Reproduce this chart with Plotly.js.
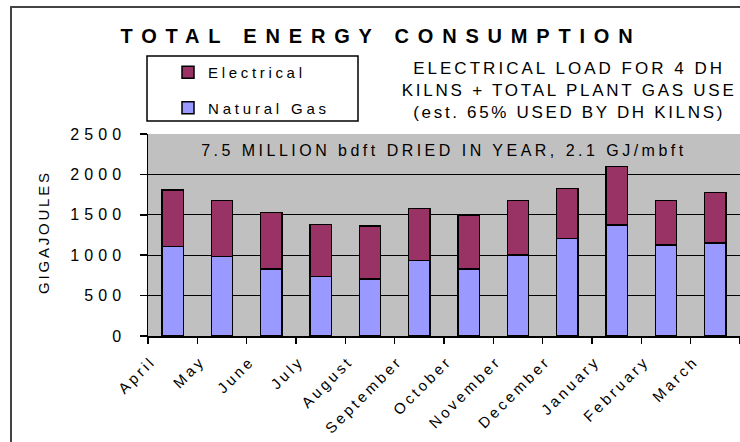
<!DOCTYPE html>
<html>
<head>
<meta charset="utf-8">
<script src="https://cdn.plot.ly/plotly-3.0.1.min.js"></script>
<style>html,body{margin:0;padding:0;background:#fff;}</style>
</head>
<body>
<div id="chart" style="width:740px;height:442px"></div>
<script>
// Monthly energy use, fiscal year April–March (gigajoules)
const months = ['April', 'May', 'June', 'July', 'August', 'September',
                'October', 'November', 'December', 'January', 'February', 'March'];
const naturalGas = [1105, 985, 830, 735, 705, 935, 830, 1005, 1205, 1375, 1125, 1150];
const electrical = [700, 695, 700, 645, 655, 640, 665, 675, 620, 720, 555, 625];
const yTickVals = [0, 500, 1000, 1500, 2000, 2500];
const yGridVals = [500, 1000, 1500, 2000];

// plot-area edges in pixels, used to place boxes and notes in paper units
const W = 740, H = 442;
const L = 148, R = 740, T = 134, B = 336;
const px = x => (x - L) / (R - L);
const py = y => (B - y) / (B - T);

const FONT = '"Liberation Sans", Arial, sans-serif';

const traces = [
  {
    type: 'bar', name: 'Natural Gas', x: months, y: naturalGas,
    legendgroup: 'gas', legendrank: 2,
    marker: {color: '#9999FF', line: {color: '#000000', width: 1.5}}
  },
  {
    type: 'bar', name: 'Electrical', x: months, y: electrical,
    legendgroup: 'elec', legendrank: 1,
    marker: {color: '#993366', line: {color: '#000000', width: 1.5}}
  }
];

const layout = {
  width: W, height: H,
  margin: {l: L, r: W - R, t: T, b: H - B, pad: 0, autoexpand: false},
  paper_bgcolor: '#FFFFFF',
  plot_bgcolor: '#C0C0C0',
  font: {family: FONT, size: 15, color: '#000000'},
  barmode: 'stack',
  bargap: 0.57,
  showlegend: true,
  title: {
    text: 'TOTAL ENERGY CONSUMPTION',
    font: {family: FONT, size: 20, weight: 'bold', color: '#000000'},
    xref: 'container', yref: 'container',
    x: 381 / W, xanchor: 'center',
    y: 1 - 36 / H, yanchor: 'middle'
  },
  legend: {
    xref: 'container', yref: 'container',
    x: 168 / W, xanchor: 'left',
    y: 1 - 56 / H, yanchor: 'top',
    bgcolor: 'rgba(0,0,0,0)', borderwidth: 0,
    traceorder: 'grouped',
    tracegroupgap: 13,
    font: {family: FONT, size: 15, color: '#000000'}
  },
  xaxis: {
    type: 'category',
    tickson: 'boundaries',
    ticks: 'outside', ticklen: 6, tickwidth: 1.5, tickcolor: '#000000',
    showline: true, linecolor: '#000000', linewidth: 1.5,
    showgrid: false, zeroline: false,
    tickangle: -45,
    tickfont: {family: FONT, size: 15, color: '#000000'},
    ticklabelshift: -21,
    ticklabelstandoff: 9,
    automargin: false,
    fixedrange: true
  },
  yaxis: {
    range: [0, 2500],
    tickvals: yTickVals,
    ticks: 'outside', ticklen: 7, tickwidth: 1.5, tickcolor: '#000000',
    showline: true, linecolor: '#000000', linewidth: 1.5,
    showgrid: false,
    minor: {tickvals: yGridVals, showgrid: true, gridcolor: '#000000', gridwidth: 1.2, ticks: ''},
    zeroline: false,
    tickfont: {family: FONT, size: 16, color: '#000000'},
    ticklabelstandoff: 10,
    automargin: false,
    fixedrange: true
  },
  shapes: [
    // chart frame
    {type: 'rect', xref: 'paper', yref: 'paper', layer: 'below',
     x0: px(11), x1: px(770), y0: py(7), y1: py(470),
     line: {color: '#444444', width: 2}, fillcolor: 'rgba(0,0,0,0)'},
    // legend frame
    {type: 'rect', xref: 'paper', yref: 'paper',
     x0: px(147), x1: px(358), y0: py(56), y1: py(121),
     line: {color: '#000000', width: 1.5}, fillcolor: 'rgba(0,0,0,0)'}
  ],
  annotations: [
    {
      text: '7.5 MILLION bdft DRIED IN YEAR, 2.1 GJ/mbft',
      xref: 'paper', yref: 'paper', x: px(444), y: py(150),
      xanchor: 'center', yanchor: 'middle', showarrow: false,
      font: {family: FONT, size: 16, color: '#000000'}
    },
    {
      text: 'ELECTRICAL LOAD FOR 4 DH<br>KILNS + TOTAL PLANT GAS USE<br>(est. 65% USED BY DH KILNS)',
      xref: 'paper', yref: 'paper', x: px(569), y: py(90),
      xanchor: 'center', yanchor: 'middle', align: 'center', showarrow: false,
      font: {family: FONT, size: 17, color: '#000000'}
    },
    {
      // y-axis title
      text: 'GIGAJOULES',
      xref: 'paper', yref: 'paper', x: px(43), y: py(232),
      xanchor: 'center', yanchor: 'middle', textangle: -90, showarrow: false,
      font: {family: FONT, size: 15, color: '#000000'}
    }
  ]
};

// widen letter spacing so a text run covers the given pixel width
function spreadTo(el, target) {
  el.style.letterSpacing = '0px';
  const n = el.textContent.length;
  const w = el.getComputedTextLength();
  const ls = n > 1 ? (target - w) / (n - 1) : 0;
  el.style.letterSpacing = ls.toFixed(2) + 'px';
  return ls;
}

Plotly.newPlot('chart', traces, layout, {staticPlot: true, displayModeBar: false}).then(gd => {
  const root = gd.querySelector('.main-svg').parentNode;
  const title = root.querySelector('.gtitle');
  if (title) spreadTo(title, 512);

  const notes = root.querySelectorAll('.annotation-text');
  notes.forEach(n => {
    const txt = n.textContent;
    if (txt.startsWith('7.5')) spreadTo(n, 482);
    else if (txt === 'GIGAJOULES') spreadTo(n, 121);
    else {
      const widths = [309, 332, 309];
      n.querySelectorAll('tspan.line').forEach((t, i) => spreadTo(t, widths[i] || 309));
    }
  });

  // let the spaced legend labels run past the auto-sized legend box
  root.querySelectorAll('.legend .scrollbox, .legend').forEach(g => g.removeAttribute('clip-path'));
  root.querySelectorAll('.legendtext').forEach(t => {
    spreadTo(t, t.textContent === 'Electrical' ? 94 : 118);
  });

  let yls = null;
  root.querySelectorAll('.ytick text').forEach(t => {
    if (t.textContent === '2500') yls = spreadTo(t, 51);
  });
  if (yls !== null) root.querySelectorAll('.ytick text').forEach(t => {
    t.style.letterSpacing = yls.toFixed(2) + 'px';
  });

  root.querySelectorAll('.xtick text').forEach(t => {
    t.style.letterSpacing = '3.2px';
  });
});
</script>
</body>
</html>
